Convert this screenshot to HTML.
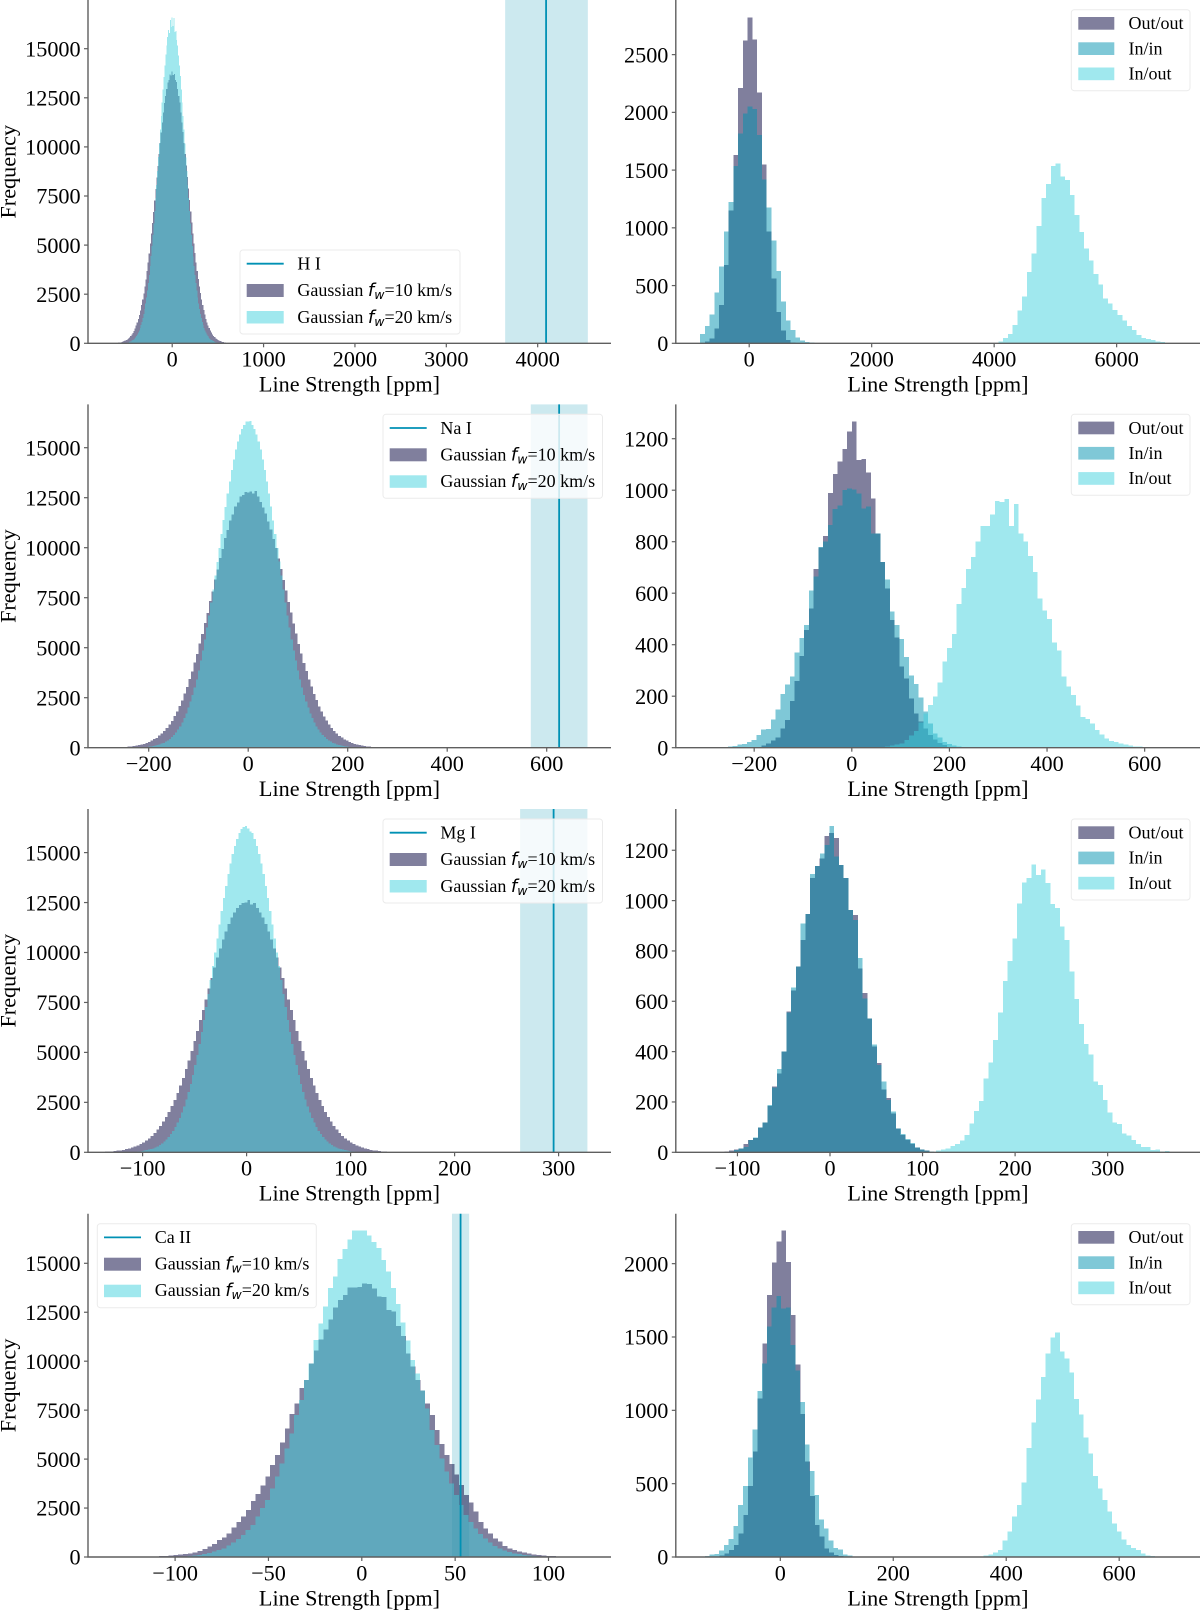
<!DOCTYPE html>
<html lang="en">
<head>
<meta charset="utf-8">
<title>Line strength histograms</title>
<style>
html,body{margin:0;padding:0;background:#fff;}
svg{display:block;filter:blur(.35px);}
text{font-family:"Liberation Serif","Times New Roman",serif;fill:#000;}
.tick-label,.axis-title{font-size:22.2px;}
.legend-text{font-size:18px;}
.math{font-family:"DejaVu Sans",sans-serif;font-style:italic;}
.spine{stroke:#5f5f5f;stroke-width:1.4;fill:none;}
.legend-box{fill:rgba(255,255,255,.8);stroke:#ebebeb;stroke-width:1;}
</style>
</head>
<body>
<svg id="figure" xmlns="http://www.w3.org/2000/svg" width="1200" height="1610" viewBox="0 0 1200 1610">

<g id="r1l" transform="translate(0,0)">
  <g class="marks"></g>
  <path class="spine" d="M88 0V343.3H611"/>
  <g class="ticks"></g>
  <text class="axis-title" x="349.5" y="391.7" text-anchor="middle">Line Strength [ppm]</text>
  <text class="axis-title" transform="translate(15.5,171.7) rotate(-90)" text-anchor="middle">Frequency</text>
  <g transform="translate(240,250)">
    <rect class="legend-box" x="0" y="0" width="220" height="84" rx="3"/>
    <line x1="6.7" x2="43.7" y1="13.7" y2="13.7" stroke="#0091b4" stroke-width="1.8"/>
    <rect x="6.7" y="34" width="37" height="13" fill="rgba(1,0,59,.5)"/>
    <rect x="6.7" y="61" width="37" height="12.5" fill="rgba(65,209,221,.5)"/>
    <text class="legend-text" x="57.4" y="19.5">H I</text>
    <text class="legend-text" x="57.4" y="46.2">Gaussian <tspan class="math">f</tspan><tspan class="math" font-size="12.5" dy="3">w</tspan><tspan dy="-3">=10 km/s</tspan></text>
    <text class="legend-text" x="57.4" y="72.8">Gaussian <tspan class="math">f</tspan><tspan class="math" font-size="12.5" dy="3">w</tspan><tspan dy="-3">=20 km/s</tspan></text>
  </g>
</g>

<g id="r1r" transform="translate(0,0)">
  <g class="marks"></g>
  <path class="spine" d="M675.8 0V343.3H1200"/>
  <g class="ticks"></g>
  <text class="axis-title" x="938" y="391.7" text-anchor="middle">Line Strength [ppm]</text>
  <g transform="translate(1071.3,9.7)">
    <rect class="legend-box" x="0" y="0" width="118.7" height="81" rx="3"/>
    <rect x="7" y="7.3" width="36" height="12.7" fill="rgba(1,0,59,.5)"/>
    <rect x="7" y="32.6" width="36" height="12.7" fill="rgba(0,145,175,.5)"/>
    <rect x="7" y="57.8" width="36" height="12.7" fill="rgba(65,209,221,.5)"/>
    <text class="legend-text" x="57.2" y="19.5">Out/out</text>
    <text class="legend-text" x="57.2" y="44.7">In/in</text>
    <text class="legend-text" x="57.2" y="69.9">In/out</text>
  </g>
</g>

<g id="r2l" transform="translate(0,404.4)">
  <g class="marks"></g>
  <path class="spine" d="M88 0V343.3H611"/>
  <g class="ticks"></g>
  <text class="axis-title" x="349.5" y="391.7" text-anchor="middle">Line Strength [ppm]</text>
  <text class="axis-title" transform="translate(15.5,171.7) rotate(-90)" text-anchor="middle">Frequency</text>
  <g transform="translate(383,9.9)">
    <rect class="legend-box" x="0" y="0" width="219.5" height="84" rx="3"/>
    <line x1="6.7" x2="43.7" y1="13.7" y2="13.7" stroke="#0091b4" stroke-width="1.8"/>
    <rect x="6.7" y="34" width="37" height="13" fill="rgba(1,0,59,.5)"/>
    <rect x="6.7" y="61" width="37" height="12.5" fill="rgba(65,209,221,.5)"/>
    <text class="legend-text" x="57.4" y="19.5">Na I</text>
    <text class="legend-text" x="57.4" y="46.2">Gaussian <tspan class="math">f</tspan><tspan class="math" font-size="12.5" dy="3">w</tspan><tspan dy="-3">=10 km/s</tspan></text>
    <text class="legend-text" x="57.4" y="72.8">Gaussian <tspan class="math">f</tspan><tspan class="math" font-size="12.5" dy="3">w</tspan><tspan dy="-3">=20 km/s</tspan></text>
  </g>
</g>

<g id="r2r" transform="translate(0,404.4)">
  <g class="marks"></g>
  <path class="spine" d="M675.8 0V343.3H1200"/>
  <g class="ticks"></g>
  <text class="axis-title" x="938" y="391.7" text-anchor="middle">Line Strength [ppm]</text>
  <g transform="translate(1071.3,9.9)">
    <rect class="legend-box" x="0" y="0" width="118.7" height="81" rx="3"/>
    <rect x="7" y="7.3" width="36" height="12.7" fill="rgba(1,0,59,.5)"/>
    <rect x="7" y="32.6" width="36" height="12.7" fill="rgba(0,145,175,.5)"/>
    <rect x="7" y="57.8" width="36" height="12.7" fill="rgba(65,209,221,.5)"/>
    <text class="legend-text" x="57.2" y="19.5">Out/out</text>
    <text class="legend-text" x="57.2" y="44.7">In/in</text>
    <text class="legend-text" x="57.2" y="69.9">In/out</text>
  </g>
</g>

<g id="r3l" transform="translate(0,809)">
  <g class="marks"></g>
  <path class="spine" d="M88 0V343.3H611"/>
  <g class="ticks"></g>
  <text class="axis-title" x="349.5" y="391.7" text-anchor="middle">Line Strength [ppm]</text>
  <text class="axis-title" transform="translate(15.5,171.7) rotate(-90)" text-anchor="middle">Frequency</text>
  <g transform="translate(383,10)">
    <rect class="legend-box" x="0" y="0" width="219.5" height="84" rx="3"/>
    <line x1="6.7" x2="43.7" y1="13.7" y2="13.7" stroke="#0091b4" stroke-width="1.8"/>
    <rect x="6.7" y="34" width="37" height="13" fill="rgba(1,0,59,.5)"/>
    <rect x="6.7" y="61" width="37" height="12.5" fill="rgba(65,209,221,.5)"/>
    <text class="legend-text" x="57.4" y="19.5">Mg I</text>
    <text class="legend-text" x="57.4" y="46.2">Gaussian <tspan class="math">f</tspan><tspan class="math" font-size="12.5" dy="3">w</tspan><tspan dy="-3">=10 km/s</tspan></text>
    <text class="legend-text" x="57.4" y="72.8">Gaussian <tspan class="math">f</tspan><tspan class="math" font-size="12.5" dy="3">w</tspan><tspan dy="-3">=20 km/s</tspan></text>
  </g>
</g>

<g id="r3r" transform="translate(0,809)">
  <g class="marks"></g>
  <path class="spine" d="M675.8 0V343.3H1200"/>
  <g class="ticks"></g>
  <text class="axis-title" x="938" y="391.7" text-anchor="middle">Line Strength [ppm]</text>
  <g transform="translate(1071.3,10)">
    <rect class="legend-box" x="0" y="0" width="118.7" height="81" rx="3"/>
    <rect x="7" y="7.3" width="36" height="12.7" fill="rgba(1,0,59,.5)"/>
    <rect x="7" y="32.6" width="36" height="12.7" fill="rgba(0,145,175,.5)"/>
    <rect x="7" y="57.8" width="36" height="12.7" fill="rgba(65,209,221,.5)"/>
    <text class="legend-text" x="57.2" y="19.5">Out/out</text>
    <text class="legend-text" x="57.2" y="44.7">In/in</text>
    <text class="legend-text" x="57.2" y="69.9">In/out</text>
  </g>
</g>

<g id="r4l" transform="translate(0,1213.7)">
  <g class="marks"></g>
  <path class="spine" d="M88 0V343.3H611"/>
  <g class="ticks"></g>
  <text class="axis-title" x="349.5" y="391.7" text-anchor="middle">Line Strength [ppm]</text>
  <text class="axis-title" transform="translate(15.5,171.7) rotate(-90)" text-anchor="middle">Frequency</text>
  <g transform="translate(97.3,10)">
    <rect class="legend-box" x="0" y="0" width="219" height="84" rx="3"/>
    <line x1="6.7" x2="43.7" y1="13.7" y2="13.7" stroke="#0091b4" stroke-width="1.8"/>
    <rect x="6.7" y="34" width="37" height="13" fill="rgba(1,0,59,.5)"/>
    <rect x="6.7" y="61" width="37" height="12.5" fill="rgba(65,209,221,.5)"/>
    <text class="legend-text" x="57.4" y="19.5">Ca II</text>
    <text class="legend-text" x="57.4" y="45.8">Gaussian <tspan class="math">f</tspan><tspan class="math" font-size="12.5" dy="3">w</tspan><tspan dy="-3">=10 km/s</tspan></text>
    <text class="legend-text" x="57.4" y="72.3">Gaussian <tspan class="math">f</tspan><tspan class="math" font-size="12.5" dy="3">w</tspan><tspan dy="-3">=20 km/s</tspan></text>
  </g>
</g>

<g id="r4r" transform="translate(0,1213.7)">
  <g class="marks"></g>
  <path class="spine" d="M675.8 0V343.3H1200"/>
  <g class="ticks"></g>
  <text class="axis-title" x="938" y="391.7" text-anchor="middle">Line Strength [ppm]</text>
  <g transform="translate(1071.3,10)">
    <rect class="legend-box" x="0" y="0" width="118.7" height="81" rx="3"/>
    <rect x="7" y="7.3" width="36" height="12.7" fill="rgba(1,0,59,.5)"/>
    <rect x="7" y="32.6" width="36" height="12.7" fill="rgba(0,145,175,.5)"/>
    <rect x="7" y="57.8" width="36" height="12.7" fill="rgba(65,209,221,.5)"/>
    <text class="legend-text" x="57.2" y="19.5">Out/out</text>
    <text class="legend-text" x="57.2" y="44.7">In/in</text>
    <text class="legend-text" x="57.2" y="69.9">In/out</text>
  </g>
</g>
</svg>

<script>
/* ---------- tick labels ---------- */
const gaussianYTicks = [0,2500,5000,7500,10000,12500,15000];
const hiGaussXTicks = [0,1000,2000,3000,4000];
const hiTransitXTicks = [0,2000,4000,6000];
const hiTransitYTicks = [0,500,1000,1500,2000,2500];
const naGaussXTicks = [-200,0,200,400,600];
const naTransitXTicks = [-200,0,200,400,600];
const naTransitYTicks = [0,200,400,600,800,1000,1200];
const mgGaussXTicks = [-100,0,100,200,300];
const mgTransitXTicks = [-100,0,100,200,300];
const mgTransitYTicks = [0,200,400,600,800,1000,1200];
const caGaussXTicks = [-100,-50,0,50,100];
const caTransitXTicks = [0,200,400,600];
const caTransitYTicks = [0,500,1000,1500,2000];

/* ---------- measured line strength and its uncertainty band: [low, centre, high] ---------- */
const hiLine = [3644,4092,4549];
const naLine = [568,625,682];
const mgLine = [263,295.2,327.7];
const caLine = [48.3,52.9,57.5];

/* ---------- histogram counts (left column: f_w 10 and 20 km/s) ---------- */
const hiGauss10 = [32,42,52,66,84,105,132,165,205,252,305,370,440,530,635,760,900,1060,1240,1445,1680,1940,2220,2540,2880,3260,3670,4110,4580,5070,5590,6130,6690,7280,7860,8450,9040,9630,10190,10740,11240,11740,12240,12590,12940,13290,13400,13690,13640,13830,13650,13700,13400,13300,12950,12600,12250,11750,11250,10750,10200,9640,9050,8460,7870,7290,6700,6140,5600,5080,4590,4120,3680,3270,2900,2550,2230,1950,1690,1460,1250,1070,910,770,650,540,450,375,310,255,207,168,135,109,87,69,55,43,34];
const hiGauss20 = [42,50,66,84,104,132,162,199,250,306,368,452,540,648,778,922,1088,1282,1496,1748,2034,2336,2686,3072,3476,3938,4436,4958,5524,6106,6738,7388,8072,8768,9474,10178,10884,11582,12268,12934,13562,14148,14692,15168,15596,15952,15800,16450,16100,16600,16150,16560,15850,15900,15450,15170,14650,14150,13600,12930,12270,11580,10880,10180,9470,8770,8070,7390,6740,6110,5520,4960,4430,3940,3480,3070,2690,2340,2030,1750,1500,1280,1090,920,780,650,540,450,370,305,250,200,163,131,105,83,66,51,42];
const naGauss10 = [32,40,52,62,82,98,128,152,192,232,292,348,424,496,604,706,846,984,1166,1342,1578,1802,2082,2358,2702,3028,3436,3806,4268,4692,5220,5680,6240,6740,7330,7820,8420,8900,9490,9940,10480,10880,11360,11670,12050,12270,12560,12640,12790,12760,12800,12720,12840,12560,12280,12020,11710,11320,10920,10440,9980,9450,8940,8380,7860,7290,6770,6210,5710,5190,4720,4240,3830,3410,3050,2680,2380,2060,1820,1560,1360,1150,995,835,714,596,503,416,352,287,237,188,157,123,101,78,65,49,41];
const naGauss20 = [41,52,64,83,102,131,159,202,244,302,364,442,528,642,768,912,1068,1262,1478,1722,1998,2302,2638,3012,3418,3872,4348,4872,5418,6004,6616,7264,7916,8614,9296,9994,10686,11374,12046,12704,13306,13894,14416,14904,15306,15664,15936,16144,16320,16300,16330,16140,15940,15660,15310,14900,14420,13890,13310,12700,12050,11370,10690,9990,9300,8610,7920,7260,6620,6000,5420,4870,4350,3870,3420,3010,2640,2300,2000,1720,1480,1260,1070,910,770,640,530,440,365,300,245,200,160,130,103,82,65,51,41];
const mgGauss10 = [31,39,50,63,79,99,123,153,188,230,280,340,410,490,590,700,820,970,1130,1320,1530,1760,2020,2310,2620,2970,3340,3730,4160,4600,5070,5560,6070,6610,7130,7660,8200,8720,9240,9740,10210,10650,11060,11430,11740,12010,12220,12380,12470,12500,12630,12400,12470,12220,12010,11740,11430,11060,10650,10210,9740,9240,8720,8200,7660,7130,6610,6070,5560,5070,4600,4160,3730,3340,2970,2620,2310,2020,1760,1530,1320,1130,970,820,700,590,490,410,340,280,230,188,153,123,99,79,63,50,39];
const mgGauss20 = [41,51,65,82,103,130,160,200,245,300,365,440,530,640,770,910,1070,1260,1480,1720,2000,2300,2640,3020,3430,3880,4360,4880,5430,6010,6630,7270,7930,8630,9320,10010,10710,11390,12070,12720,13340,13920,14450,14930,15340,15690,15970,16170,16290,16330,16200,16050,15970,15690,15340,14930,14450,13920,13340,12720,12070,11390,10710,10010,9320,8630,7930,7270,6630,6010,5430,4880,4360,3880,3430,3020,2640,2300,2000,1720,1480,1260,1070,910,770,640,530,440,365,300,245,200,160,130,103,82,65,51,41];
const caGauss10 = [20,30,40,55,70,90,120,150,187,238,306,408,528,664,870,1005,1210,1515,1800,2060,2400,2860,3220,3660,4100,4700,5210,5840,6560,7300,7850,8620,9040,9890,10540,11120,11630,12140,12750,13130,13380,13770,13770,13800,13980,13950,13720,13300,13290,12610,12530,11800,11290,10400,9720,9040,8500,7850,7250,6490,5770,5210,4750,4220,3680,3170,2780,2320,1800,1460,1210,950,780,560,440,355,270,220,170,130,100,80,60,45,35,25];
const caGauss20 = [20,35,55,80,110,150,200,290,355,440,600,730,920,1120,1380,1630,2060,2490,2910,3510,4100,4780,5550,6320,7250,8020,9040,9890,11080,11930,12790,13730,14320,15210,15720,16220,16670,16670,16670,16410,16100,15770,15170,14570,13730,12930,11970,11050,10060,9380,8500,7590,6490,5720,5040,4360,3760,3170,2660,2150,1800,1460,1170,940,730,560,425,325,255,190,145,105,75,50,30,20];

/* ---------- histogram counts (right column: Out/out, In/in, In/out) ---------- */
const hiOutOut = [15,40,130,330,680,1149,1631,2211,2621,2823,2633,2171,1547,970,560,270,110,30,8];
const hiInIn = [81,150,251,439,664,970,1224,1536,1819,1992,2050,2027,1804,1420,1178,889,624,361,196,115,52,23,12,6];
const hiInOut = [17,46,81,159,283,404,618,779,1016,1259,1380,1536,1559,1443,1415,1285,1111,964,823,716,600,511,390,346,289,245,196,150,115,72,46,38,29,17,12];
const naOutOut = [9,17,27,40,75,107,181,260,356,457,541,694,778,823,990,1063,1111,1160,1227,1266,1117,1122,1068,968,832,722,619,496,428,315,269,192,133,101,75,49,32,19,10];
const naInIn = [5,6,12,14,22,30,49,71,72,110,149,208,246,276,370,426,476,611,664,780,800,865,927,940,1000,1007,1003,988,929,936,832,832,722,654,529,476,422,353,281,247,195,140,94,56,40,23,14,9,5];
const naInOut = [4,8,13,17,30,48,65,98,133,166,199,254,334,387,441,558,620,694,740,801,861,861,906,958,955,966,861,946,832,801,744,683,580,532,500,409,378,276,237,205,163,120,111,94,69,52,36,26,23,17,12,8,5,4];
const mgOutOut = [4,7,12,15,33,48,56,99,118,184,261,314,400,559,642,738,844,946,1089,1138,1168,1257,1268,1248,1142,1089,963,943,731,632,532,420,354,250,215,155,95,69,49,33,20,12,7];
const mgInIn = [4,9,16,22,48,58,99,118,187,258,330,400,556,654,738,910,946,1106,1138,1188,1220,1297,1175,1142,1089,963,923,771,612,532,429,347,281,208,162,95,72,52,36,20,12,7,4];
const mgInOut = [7,11,15,25,33,46,69,115,164,204,294,356,446,555,681,760,850,989,1071,1089,1144,1102,1124,1069,987,970,897,844,718,609,510,430,389,281,268,208,159,118,113,75,66,49,33,22,22,9,12,3,5];
const caOutOut = [5,11,25,48,82,161,286,484,718,1082,1457,1786,2007,2150,2225,2011,1650,1311,975,650,416,218,139,59,30,14,7];
const caInIn = [7,16,20,43,82,123,211,355,484,677,870,1132,1320,1570,1702,1780,1695,1700,1445,1270,1057,768,586,423,257,195,111,61,50,18,9,5];
const caInOut = [5,9,18,32,48,111,173,275,355,509,743,916,1075,1227,1389,1495,1532,1400,1352,1259,1077,973,816,707,552,468,389,309,230,173,120,82,61,48,25,11,7];

/* ---------- styling ---------- */
const DARK = 'rgba(1,0,59,.5)';
const MID = 'rgba(0,145,175,.5)';
const LIGHT = 'rgba(65,209,221,.5)';
const BASELINE = 343.3;

/* ---------- panel axis definitions ---------- */
const panelDefs = [
  {id:'r1l', side:'left', xZero:172.2, xPerUnit:0.09137, yPerUnit:0.01964, xTicks:hiGaussXTicks, yTicks:gaussianYTicks, band:hiLine,
   series:[{start:-591,bin:11.94,values:hiGauss10,fill:DARK},{start:-495,bin:10,values:hiGauss20,fill:LIGHT}]},
  {id:'r1r', side:'right', xZero:749.2, xPerUnit:0.06124, yPerUnit:0.11547, xTicks:hiTransitXTicks, yTicks:hiTransitYTicks,
   series:[{start:-725,bin:77.8,values:hiOutOut,fill:DARK},{start:-803,bin:77.8,values:hiInIn,fill:MID},{start:4069,bin:77.8,values:hiInOut,fill:LIGHT}]},
  {id:'r2l', side:'left', xZero:248.2, xPerUnit:0.4975, yPerUnit:0.02, xTicks:naGaussXTicks, yTicks:gaussianYTicks, band:naLine,
   series:[{start:-252.5,bin:5.1,values:naGauss10,fill:DARK},{start:-205,bin:4.15,values:naGauss20,fill:LIGHT}]},
  {id:'r2r', side:'right', xZero:851.8, xPerUnit:0.4881, yPerUnit:0.2575, xTicks:naTransitXTicks, yTicks:naTransitYTicks,
   series:[{start:-185.5,bin:9.765,values:naOutOut,fill:DARK},{start:-253.9,bin:9.765,values:naInIn,fill:MID},{start:68.4,bin:9.765,values:naInOut,fill:LIGHT}]},
  {id:'r3l', side:'left', xZero:246.6, xPerUnit:1.04, yPerUnit:0.01998, xTicks:mgGaussXTicks, yTicks:gaussianYTicks, band:mgLine,
   series:[{start:-136,bin:2.735,values:mgGauss10,fill:DARK},{start:-105.5,bin:2.12,values:mgGauss20,fill:LIGHT}]},
  {id:'r3r', side:'right', xZero:830, xPerUnit:0.9255, yPerUnit:0.2517, xTicks:mgTransitXTicks, yTicks:mgTransitYTicks,
   series:[{start:-114.1,bin:5.149,values:mgOutOut,fill:DARK},{start:-108.9,bin:5.149,values:mgInIn,fill:MID},{start:114.6,bin:5.149,values:mgInOut,fill:LIGHT}]},
  {id:'r4l', side:'left', xZero:361.8, xPerUnit:1.867, yPerUnit:0.01958, xTicks:caGaussXTicks, yTicks:gaussianYTicks, band:caLine,
   series:[{start:-113.9,bin:2.594,values:caGauss10,fill:DARK},{start:-98.5,bin:2.594,values:caGauss20,fill:LIGHT}]},
  {id:'r4r', side:'right', xZero:780.3, xPerUnit:0.5648, yPerUnit:0.14667, xTicks:caTransitXTicks, yTicks:caTransitYTicks,
   series:[{start:-116,bin:8.43,values:caOutOut,fill:DARK},{start:-133.5,bin:8.43,values:caInIn,fill:MID},{start:351.6,bin:8.43,values:caInOut,fill:LIGHT}]}
];

const svgRoot = document.getElementById('figure');
const svgNS = svgRoot.namespaceURI;

function xAt(p, v) { return p.xZero + p.xPerUnit * v; }
function yAt(p, v) { return BASELINE - p.yPerUnit * v; }
function fmt(v) { return v < 0 ? '\u2212' + Math.abs(v) : String(v); }

function drawBars(p, marks) {
  p.series.forEach(function (s) {
    const group = document.createElementNS(svgNS, 'g');
    
    
    group.setAttribute('shape-rendering', 'crispEdges');
    group.setAttribute('fill', s.fill);
    s.values.forEach(function (v, i) {
      const el = document.createElementNS(svgNS, 'rect');
      
      
      el.setAttribute('x', xAt(p, s.start + i * s.bin));
      el.setAttribute('width', s.bin * p.xPerUnit);
      el.setAttribute('y', yAt(p, v));
      el.setAttribute('height', BASELINE - yAt(p, v));
      group.appendChild(el);
    });
    marks.appendChild(group);
  });
}

function drawBand(p, marks) {
  const el = document.createElementNS(svgNS, 'rect');
  
  
  el.setAttribute('x', xAt(p, p.band[0]));
  el.setAttribute('width', xAt(p, p.band[2]) - xAt(p, p.band[0]));
  el.setAttribute('y', 0);
  el.setAttribute('height', BASELINE);
  el.setAttribute('fill', 'rgba(0,145,175,.2)');
  marks.appendChild(el);
}

function drawCentreLine(p, marks) {
  const el = document.createElementNS(svgNS, 'line');
  
  
  el.setAttribute('x1', xAt(p, p.band[1]));
  el.setAttribute('x2', xAt(p, p.band[1]));
  el.setAttribute('y1', 0);
  el.setAttribute('y2', BASELINE);
  el.setAttribute('stroke', '#0091b4');
  el.setAttribute('stroke-width', 1.8);
  marks.appendChild(el);
}

function drawTicks(p, ticks) {
  const axisX = p.side === 'left' ? 88 : 675.8;
  p.xTicks.forEach(function (v) {
    const mark = document.createElementNS(svgNS, 'line');
    
    
    mark.setAttribute('x1', xAt(p, v));
    mark.setAttribute('x2', xAt(p, v));
    mark.setAttribute('y1', BASELINE);
    mark.setAttribute('y2', BASELINE + 4);
    mark.setAttribute('stroke', '#5f5f5f');
    mark.setAttribute('stroke-width', 1.2);
    ticks.appendChild(mark);
    const label = document.createElementNS(svgNS, 'text');
    
    
    label.setAttribute('class', 'tick-label');
    label.setAttribute('x', xAt(p, v));
    label.setAttribute('y', BASELINE + 23.4);
    label.setAttribute('text-anchor', 'middle');
    label.textContent = fmt(v);
    ticks.appendChild(label);
  });
  p.yTicks.forEach(function (v) {
    const mark = document.createElementNS(svgNS, 'line');
    
    
    mark.setAttribute('x1', axisX - 4);
    mark.setAttribute('x2', axisX);
    mark.setAttribute('y1', yAt(p, v));
    mark.setAttribute('y2', yAt(p, v));
    mark.setAttribute('stroke', '#5f5f5f');
    mark.setAttribute('stroke-width', 1.2);
    ticks.appendChild(mark);
    const label = document.createElementNS(svgNS, 'text');
    
    
    label.setAttribute('class', 'tick-label');
    label.setAttribute('x', axisX - 7.4);
    label.setAttribute('y', yAt(p, v) + 7.7);
    label.setAttribute('text-anchor', 'end');
    label.textContent = fmt(v);
    ticks.appendChild(label);
  });
}

panelDefs.forEach(function (p) {
  const root = document.getElementById(p.id);
  const marks = root.querySelector('.marks');
  const ticks = root.querySelector('.ticks');
  if (p.band) drawBand(p, marks);
  drawBars(p, marks);
  if (p.band) drawCentreLine(p, marks);
  drawTicks(p, ticks);
});
</script>
</body>
</html>
